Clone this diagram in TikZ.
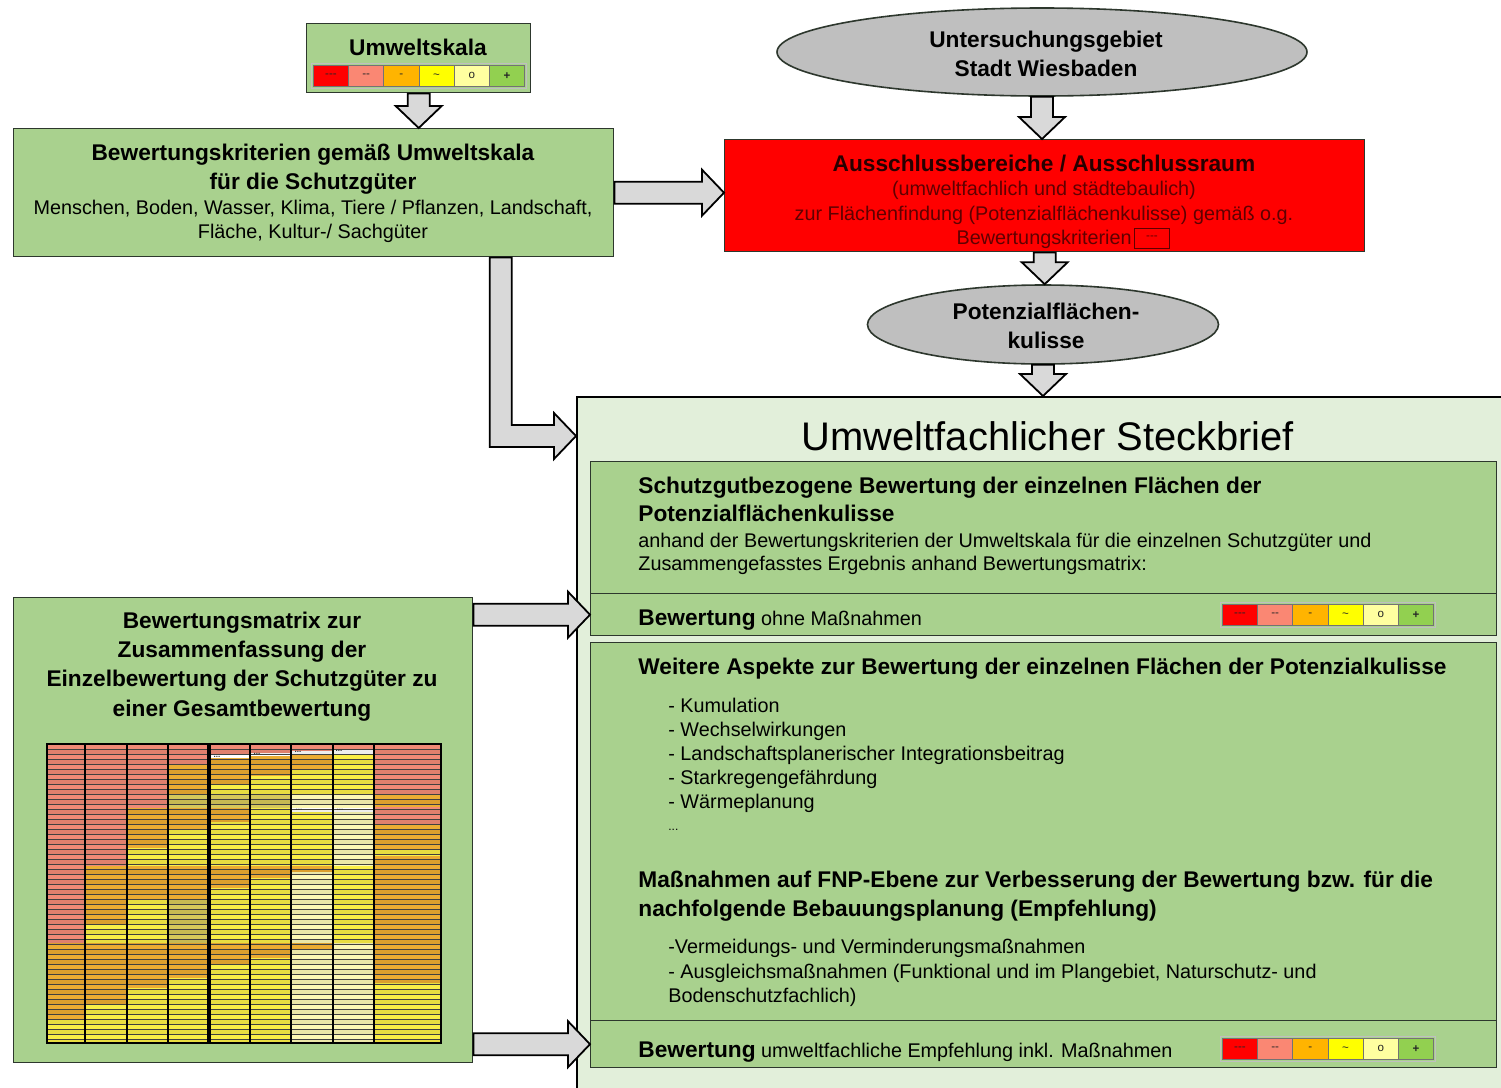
\documentclass[tikz,border=0pt]{standalone}
\usepackage{fontspec}
\setmainfont{Liberation Sans}
\usetikzlibrary{shapes.geometric,calc}
\definecolor{boxgreen}{RGB}{169,209,142}
\definecolor{lightbg}{RGB}{226,239,218}
\definecolor{boxline}{RGB}{45,55,45}
\definecolor{ellgrey}{RGB}{191,191,191}
\definecolor{arrgrey}{RGB}{217,217,217}
\definecolor{rtitle}{RGB}{40,0,0}
\definecolor{rtext}{RGB}{95,0,0}
\definecolor{sRed}{RGB}{255,0,0}
\definecolor{sSal}{RGB}{250,135,115}
\definecolor{sOra}{RGB}{255,180,0}
\definecolor{sYel}{RGB}{255,255,0}
\definecolor{sPal}{RGB}{255,255,160}
\definecolor{sGrn}{RGB}{146,208,80}
\definecolor{mSal}{RGB}{240,138,118}
\definecolor{mOra}{RGB}{236,172,50}
\definecolor{mYel}{RGB}{250,238,70}
\definecolor{mPal}{RGB}{252,248,180}
\definecolor{mOli}{RGB}{214,200,90}
\definecolor{mWht}{RGB}{255,255,255}

\newcommand\fB{\fontsize{11.35pt}{13pt}\selectfont\bfseries}
\newcommand\fR{\fontsize{9.9pt}{12pt}\selectfont\mdseries}
\newcommand\fT{\fontsize{19.95pt}{24pt}\selectfont\mdseries}
\newcommand\fS{\fontsize{5.8pt}{6pt}\selectfont\mdseries}

\newcommand\bx[6]{\node[#6,anchor=north west,inner sep=0pt,minimum width={(#4-#2)*0.5pt},minimum height={(#5-#3)*0.5pt}] (#1) at (#2,#3) {};}

\newcommand\varr[2]{\draw[barrow] let \p1=(#1), \p2=(#2) in
  (\x1-5.5pt,\y1) -- (\x1+5.5pt,\y1) -- (\x1+5.5pt,\y2+11pt) -- (\x1+11.5pt,\y2+11pt)
  -- (\x1,\y2) -- (\x1-11.5pt,\y2+11pt) -- (\x1-5.5pt,\y2+11pt) -- cycle;}

\newcommand\harr[2]{\draw[barrow] let \p1=(#1), \p2=(#2) in
  (\x1,\y1+5.5pt) -- (\x2-11pt,\y1+5.5pt) -- (\x2-11pt,\y1+11.5pt) -- (\x2,\y1)
  -- (\x2-11pt,\y1-11.5pt) -- (\x2-11pt,\y1-5.5pt) -- (\x1,\y1-5.5pt) -- cycle;}

\newcommand\scalebar[3]{%
  \draw[black!25, line width=0.4pt] (#2-2,#3-2) rectangle (#2+213,#3+23);
  \foreach \c/\t [count=\i from 0] in {sRed/{-{}-{}-},sSal/{-{}-},sOra/{-},sYel/{\textasciitilde},sPal/{o},sGrn/{\textbf{+}}}{
    \node[cell,fill=\c] (#1\i) at (#2+\i*35.2,#3) {\t};
  }}

\tikzset{
  gbox/.style={draw=boxline,line width=0.7pt,fill=boxgreen},
  rbox/.style={draw=boxline,line width=0.7pt,fill=sRed},
  lbox/.style={draw=black,line width=0.8pt,fill=lightbg},
  ell/.style={ellipse,draw=boxline,line width=0.8pt,fill=ellgrey,inner sep=0pt},
  barrow/.style={draw=black,line width=0.9pt,fill=arrgrey,line join=miter},
  cell/.style={draw=black!55,line width=0.4pt,anchor=north west,inner sep=0pt,
    minimum width=17.6pt,minimum height=10.5pt,font=\fS,text=black!85},
  txt/.style={inner sep=0pt,text=black},
  dots/.style={inner sep=0pt,font=\fontsize{4pt}{4pt}\selectfont\bfseries,text=black!80}
}

\begin{document}
\begin{tikzpicture}[x=0.5pt,y=-0.5pt]
\useasboundingbox (0,0) rectangle (1501,1088);
\clip (0,0) rectangle (1501,1088);
\fill[white] (0,0) rectangle (1501,1088);

% boxes
\bx{steck}{576}{396}{1540}{1120}{lbox}
\bx{umw}{306}{23}{530}{92}{gbox}
\bx{bewk}{13}{128}{613}{256}{gbox}
\bx{red}{724}{139}{1364}{251}{rbox}
\bx{b1top}{590}{461}{1496}{593}{gbox}
\bx{b1row}{590}{593}{1496}{635}{gbox}
\bx{b2top}{590}{642}{1496}{1020}{gbox}
\bx{b2row}{590}{1020}{1496}{1067}{gbox}
\bx{mat}{13}{597}{472}{1062}{gbox}
\node[ell,minimum width=265pt,minimum height=44pt] (ell1) at (1042,52) {};
\node[ell,minimum width=175.5pt,minimum height=39.5pt] (ell2) at (1043,324.5) {};

% scale bars
\scalebar{su}{313}{65}
\scalebar{sa}{1222}{604}
\scalebar{sb}{1222}{1038}

% matrix
\foreach \xa/\xb/\ya/\yb/\c in {
  47/85/744/943/mSal, 47/85/943/1020/mOra, 47/85/1020/1043/mYel,
  85/127/744/866/mSal, 85/127/866/925/mOra, 85/127/925/943/mYel, 85/127/943/1004/mOra, 85/127/1004/1043/mYel,
  127/168/744/808/mSal, 127/168/808/848/mOra, 127/168/848/866/mYel, 127/168/866/900/mOra, 127/168/900/943/mYel, 127/168/943/988/mOra, 127/168/988/1043/mYel,
  168/208/744/765/mSal, 168/208/765/795/mOra, 168/208/795/808/mOli, 168/208/808/830/mOra, 168/208/830/866/mYel, 168/208/866/900/mOra, 168/208/900/943/mOli, 168/208/943/978/mOra, 168/208/978/1043/mYel,
  210/250/744/755/mSal, 210/250/755/758/mWht, 210/250/758/785/mOra, 210/250/785/795/mYel, 210/250/795/808/mOli, 210/250/808/822/mOra, 210/250/822/866/mYel, 210/250/866/888/mOra, 210/250/888/943/mYel, 210/250/943/965/mOra, 210/250/965/1043/mYel,
  250/291/744/753/mSal, 250/291/753/756/mWht, 250/291/756/776/mOra, 250/291/776/795/mYel, 250/291/795/808/mOli, 250/291/808/866/mYel, 250/291/866/878/mOra, 250/291/878/943/mYel, 250/291/943/958/mOra, 250/291/958/1043/mYel,
  291/333/744/751/mSal, 291/333/751/755/mWht, 291/333/755/770/mOra, 291/333/770/795/mYel, 291/333/795/808/mPal, 291/333/808/812/mWht, 291/333/812/866/mYel, 291/333/866/872/mOra, 291/333/872/943/mPal, 291/333/943/950/mOra, 291/333/950/1043/mPal,
  333/374/744/749/mSal, 333/374/749/754/mWht, 333/374/754/795/mYel, 333/374/795/808/mPal, 333/374/808/812/mWht, 333/374/812/866/mPal, 333/374/866/943/mYel, 333/374/943/1043/mPal,
  374/441/744/795/mSal, 374/441/795/807/mOra, 374/441/807/825/mSal, 374/441/825/850/mOra, 374/441/850/856/mYel, 374/441/856/943/mOra, 374/441/943/983/mOra, 374/441/983/1043/mYel}
  {\fill[\c] (\xa,\ya) rectangle (\xb,\yb);}
\foreach \y in {749,759,...,1039} \fill[black,opacity=0.07] (47,\y) rectangle (441,\y+5);
\foreach \y in {749,754,...,1039} \draw[line width=0.3pt,black!75] (47,\y) -- (441,\y);
\foreach \x in {85,127,168,250,291,333,374} \draw[line width=0.6pt] (\x,744) -- (\x,1043);
\fill (207,744) rectangle (211,1043);
\draw[line width=0.8pt] (47,744) rectangle (441,1043);
\node[dots] (m1) at (217,757) {...};
\node[dots] (m2) at (257,754) {...};
\node[dots] (m3) at (298,752) {...};
\node[dots] (m4) at (339,751) {...};
\node[dots] (m5) at (299,810) {...};
\node[dots] (m6) at (340,810) {...};

% arrows
\varr{umw.south}{umw.south |- bewk.north}
\harr{bewk.east}{bewk.east -| red.west}
\varr{ell1.south}{ell1.south |- red.north}
\varr{red.south}{red.south |- ell2.north}
\varr{ell2.south}{ell2.south |- steck.north}
\coordinate (Ls) at ([xshift=93.5pt]bewk.south);
\coordinate (Lt) at ([yshift=-20pt]steck.north west);
\draw[barrow] let \p1=(Ls), \p2=(Lt) in
  (\x1-5.5pt,\y1) -- (\x1+5.5pt,\y1) -- (\x1+5.5pt,\y2+5.5pt) -- (\x2-11pt,\y2+5.5pt)
  -- (\x2-11pt,\y2+11.5pt) -- (\x2,\y2) -- (\x2-11pt,\y2-11.5pt) -- (\x2-11pt,\y2-5.5pt)
  -- (\x1-5.5pt,\y2-5.5pt) -- cycle;
\harr{mat.east |- b1row.west}{b1row.west}
\harr{mat.east |- b2row.west}{b2row.west}

% texts
\node[txt,anchor=base] (tUmw) at (418,55) {\fB Umweltskala};
\node[txt,anchor=base] (tBk1) at (313,160) {\fB Bewertungskriterien gemäß Umweltskala};
\node[txt,anchor=base] (tBk2) at (313,189) {\fB für die Schutzgüter};
\node[txt,anchor=base] (tBk3) at (313,214) {\fR Menschen, Boden, Wasser, Klima, Tiere / Pflanzen, Landschaft,};
\node[txt,anchor=base] (tBk4) at (313,238) {\fR Fläche, Kultur-/ Sachgüter};
\node[txt,anchor=base] (tE11) at (1046,47) {\fB Untersuchungsgebiet};
\node[txt,anchor=base] (tE12) at (1046,76) {\fB Stadt Wiesbaden};
\node[txt,anchor=base,text=rtitle] (tR1) at (1044,171) {\fB Ausschlussbereiche / Ausschlussraum};
\node[txt,anchor=base,text=rtext] (tR2) at (1044,195) {\fR (umweltfachlich und städtebaulich)};
\node[txt,anchor=base,text=rtext] (tR3) at (1044,220) {\fR zur Flächenfindung (Potenzialflächenkulisse) gemäß o.g.};
\node[txt,anchor=base east,text=rtext] (tR4) at (1132,244) {\fR Bewertungskriterien};
\node[draw=rtext,line width=0.4pt,fill=sRed,inner sep=0pt,minimum width=17.5pt,minimum height=10pt,font=\fS,text=rtext] (tR5) at (1152,238) {-{}-{}-};
\node[txt,anchor=base] (tE21) at (1046,319) {\fB Potenzialflächen-};
\node[txt,anchor=base] (tE22) at (1046,348) {\fB kulisse};
\node[txt,anchor=base] (tSt) at (1048,450) {\fT Umweltfachlicher Steckbrief};
\node[txt,anchor=base west] (tA1) at (638,493) {\fB Schutzgutbezogene Bewertung der einzelnen Flächen der};
\node[txt,anchor=base west] (tA2) at (638,521) {\fB Potenzialflächenkulisse};
\node[txt,anchor=base west] (tA3) at (638,547) {\fR anhand der Bewertungskriterien der Umweltskala für die einzelnen Schutzgüter und};
\node[txt,anchor=base west] (tA4) at (638,570) {\fR Zusammengefasstes Ergebnis anhand Bewertungsmatrix:};
\node[txt,anchor=base west] (tA5) at (638,625) {\fB Bewertung\fR{} ohne Maßnahmen};
\node[txt,anchor=base west] (tB1) at (638,674) {\fB Weitere Aspekte zur Bewertung der einzelnen Flächen der Potenzialkulisse};
\node[txt,anchor=base west] (tB2) at (668,712) {\fR - Kumulation};
\node[txt,anchor=base west] (tB3) at (668,736) {\fR - Wechselwirkungen};
\node[txt,anchor=base west] (tB4) at (668,760) {\fR - Landschaftsplanerischer Integrationsbeitrag};
\node[txt,anchor=base west] (tB5) at (668,784) {\fR - Starkregengefährdung};
\node[txt,anchor=base west] (tB6) at (668,808) {\fR - Wärmeplanung};
\node[txt,anchor=base west] (tB7) at (668,830) {\fontsize{6pt}{7pt}\selectfont ...};
\node[txt,anchor=base west] (tB8) at (638,887) {\fB Maßnahmen auf FNP-Ebene zur Verbesserung der Bewertung bzw. für die};
\node[txt,anchor=base west] (tB9) at (638,916) {\fB nachfolgende Bebauungsplanung (Empfehlung)};
\node[txt,anchor=base west] (tB10) at (668,953) {\fR -Vermeidungs- und Verminderungsmaßnahmen};
\node[txt,anchor=base west] (tB11) at (668,978) {\fR - Ausgleichsmaßnahmen (Funktional und im Plangebiet, Naturschutz- und};
\node[txt,anchor=base west] (tB12) at (668,1002) {\fR Bodenschutzfachlich)};
\node[txt,anchor=base west] (tB13) at (638,1057) {\fB Bewertung\fR{} umweltfachliche Empfehlung inkl. Maßnahmen};
\node[txt,anchor=base] (tM1) at (242,628) {\fB Bewertungsmatrix zur};
\node[txt,anchor=base] (tM2) at (242,657) {\fB Zusammenfassung der};
\node[txt,anchor=base] (tM3) at (242,686) {\fB Einzelbewertung der Schutzgüter zu};
\node[txt,anchor=base] (tM4) at (242,716) {\fB einer Gesamtbewertung};
\end{tikzpicture}
\end{document}
